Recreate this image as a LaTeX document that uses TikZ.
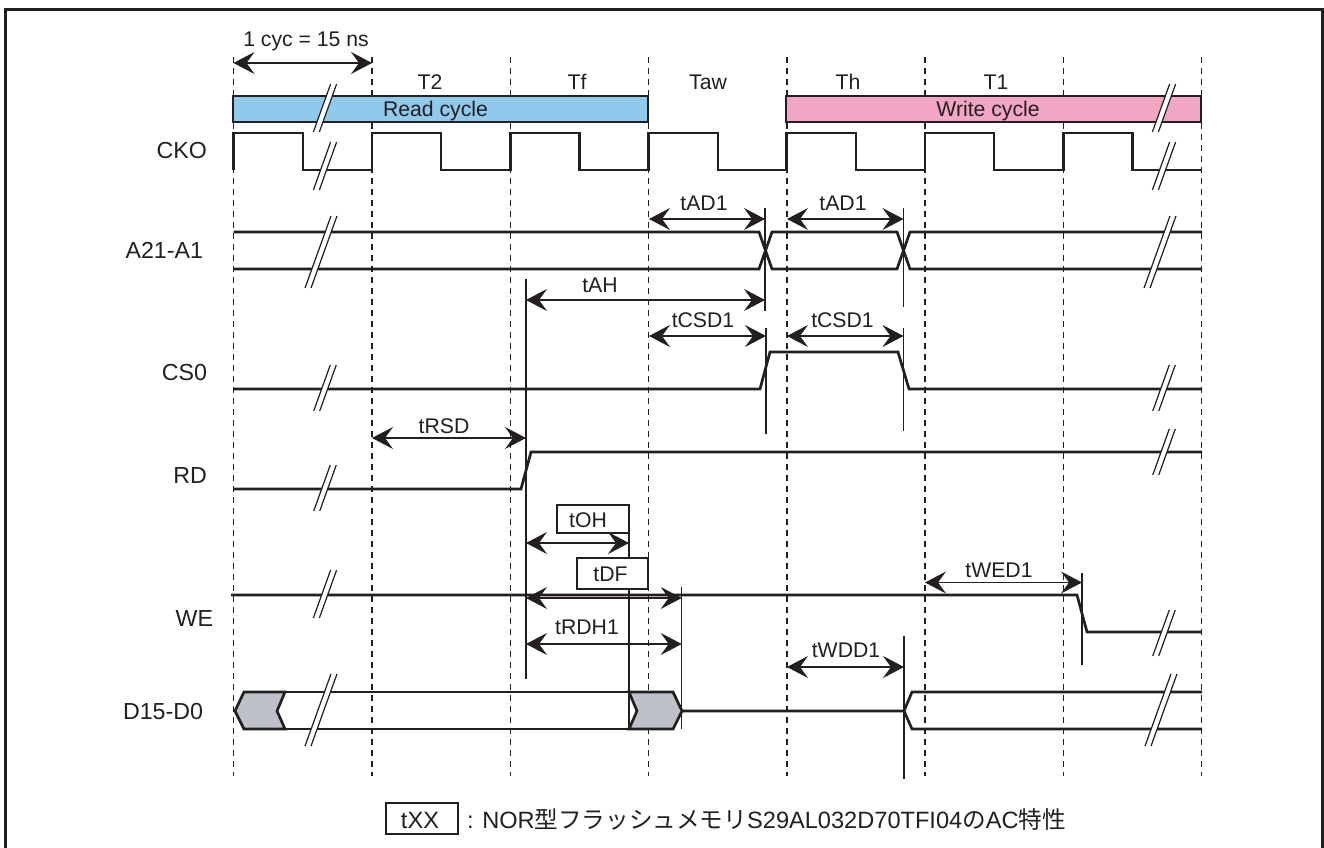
\documentclass[tikz,border=0pt]{standalone}
\usepackage{fontspec}
\setmainfont{Liberation Sans}
\newfontfamily\cjk{Noto Sans CJK JP}
\usetikzlibrary{arrows.meta}
\definecolor{ink}{HTML}{231F20}
\definecolor{readblue}{HTML}{8FC9EC}
\definecolor{writepink}{HTML}{F2A6C3}
\definecolor{busgray}{HTML}{BEC1C8}
\tikzset{
 x=0.75pt,y=-0.75pt,
 every node/.style={text=ink,font=\fontsize{15.9}{18}\selectfont,inner sep=0pt,outer sep=0pt},
 grid/.style={draw=ink,line width=1.6*0.75pt,dash pattern=on 6*0.75pt off 5*0.75pt},
 sig/.style={draw=ink,line width=2.7*0.75pt,line join=miter},
 thin line/.style={draw=ink,line width=1.5*0.75pt},
 dim/.style={draw=ink,line width=1.2*0.75pt,{Stealth[length=21*0.75pt,width=22*0.75pt,inset=8*0.75pt]}-{Stealth[length=21*0.75pt,width=22*0.75pt,inset=8*0.75pt]}},
 label/.style={anchor=base},
 siglabel/.style={anchor=base east,font=\fontsize{17.4}{20}\selectfont},
 boxed/.style={draw=ink,line width=1.5*0.75pt,fill=white},
 bar/.style={draw=ink,line width=2*0.75pt,minimum width=415.5*0.75pt,minimum height=26*0.75pt,anchor=north west},
}
% break mark: centre x, centre y, half height
\newcommand{\brk}[3]{%
 \fill[white] ({#1-#3*0.36-3},{#2+#3}) -- ({#1+#3*0.36-3},{#2-#3}) -- ({#1+#3*0.36+3},{#2-#3}) -- ({#1-#3*0.36+3},{#2+#3}) -- cycle;
 \draw[ink,line width=1.2*0.75pt] ({#1-#3*0.36-3},{#2+#3}) -- ({#1+#3*0.36-3},{#2-#3});
 \draw[ink,line width=1.2*0.75pt] ({#1-#3*0.36+3},{#2+#3}) -- ({#1+#3*0.36+3},{#2-#3});
}
\begin{document}
\begin{tikzpicture}
\useasboundingbox (0,0) rectangle (1324,848);
\fill[white] (0,0) rectangle (1324,848);
\draw[ink,line width=2.5*0.75pt] (5.3,848) -- (5.3,9.5) -- (1322.5,9.5) -- (1322.5,848);
% grid
\foreach \x in {233.5,372,510.3,648.5,786.8,925,1063.3,1201.5}
  \draw[grid] (\x,57) -- (\x,776);
% bars
\node[bar,fill=readblue] (readbar) at (232.5,96.5) {};
\node[bar,fill=writepink] (writebar) at (785.5,96.5) {};
\node[label] (readtxt) at (435.5,117) {Read cycle};
\node[label] (writetxt) at (988,117) {Write cycle};
% period labels
\node[label] (t2) at (430,90) {T2};
\node[label] (tf) at (577,90) {Tf};
\node[label] (taw) at (708,90) {Taw};
\node[label] (th) at (848,90) {Th};
\node[label] (t1) at (996,90) {T1};
\node[label] (cyc) at (306,47) {1 cyc = 15 ns};
% signal labels
\node[siglabel] (lcko) at (207,159) {CKO};
\node[siglabel] (la) at (203,259) {A21-A1};
\node[siglabel] (lcs) at (207,381) {CS0};
\node[siglabel] (lrd) at (207,483) {RD};
\node[siglabel] (lwe) at (213,626) {WE};
\node[siglabel] (ld) at (203,719) {D15-D0};
% CKO
\draw[sig] (233.5,170) -- (233.5,133) -- (303,133) -- (303,170) -- (372,170) -- (372,133) -- (441,133) -- (441,170) -- (510.3,170) -- (510.3,133) -- (579.5,133) -- (579.5,170) -- (648.5,170) -- (648.5,133) -- (718,133) -- (718,170) -- (786.8,170) -- (786.8,133) -- (856,133) -- (856,170) -- (925,170) -- (925,133) -- (994,133) -- (994,170) -- (1063.3,170) -- (1063.3,133) -- (1132.5,133) -- (1132.5,170) -- (1201.5,170);
% A21-A1
\draw[sig] (233.5,232) -- (759,232) -- (772,269) -- (897,269) -- (910,232) -- (1202,232);
\draw[sig] (233.5,269) -- (759,269) -- (772,232) -- (897,232) -- (910,269) -- (1202,269);
% CS0
\draw[sig] (233.5,389) -- (760,389) -- (770,352) -- (898,352) -- (909,389) -- (1202,389);
% RD
\draw[sig] (233.5,489) -- (521,489) -- (531,452) -- (1202,452);
% WE
\draw[sig] (231,595) -- (1077,595) -- (1087,632) -- (1202,632);
% D15-D0
\draw[sig,fill=busgray] (235,711) -- (244,692) -- (285,692) -- (277,711) -- (285,729) -- (244,729) -- cycle;
\draw[sig] (285,692) -- (629,692);
\draw[sig] (285,729) -- (629,729);
\draw[sig,fill=busgray] (629,692) -- (673,692) -- (682,711) -- (673,729) -- (629,729) -- (637,711) -- cycle;
\draw[sig] (682,711) -- (904,711) -- (912,692) -- (1202,692);
\draw[sig] (904,711) -- (912,729) -- (1202,729);
% breaks
\brk{325}{108}{24}
\brk{325}{166}{24}
\brk{321}{252}{36}
\brk{325}{388}{23}
\brk{325}{488}{23}
\brk{325}{594}{24}
\brk{321}{710}{36}
\brk{1164}{108}{24}
\brk{1164}{166}{24}
\brk{1160}{252}{36}
\brk{1164}{388}{23}
\brk{1164}{452}{23}
\brk{1164}{633}{23}
\brk{1161}{710}{36}
% timing reference lines
\coordinate (c1) at (233.5,63);\coordinate (c2) at (372,63);
\coordinate (ahTop) at (526,279);\coordinate (ahBot) at (526,679);
\coordinate (a1Top) at (765,208);\coordinate (a1Bot) at (765,311);
\coordinate (a2Top) at (903.5,208);\coordinate (a2Bot) at (903.5,307);
\coordinate (cs1Top) at (766,328);\coordinate (cs1Bot) at (766,434);
\coordinate (cs2Top) at (903.5,328);\coordinate (cs2Bot) at (903.5,431);
\coordinate (ohTop) at (629,533);\coordinate (ohBot) at (629,729);
\coordinate (dfTop) at (681.7,587);\coordinate (dfBot) at (681.7,729);
\coordinate (wedTop) at (1082,573);\coordinate (wedBot) at (1082,665);
\coordinate (wddTop) at (904,636);\coordinate (wddBot) at (904,779);
\foreach \p/\q in {ahTop/ahBot,a1Top/a1Bot,a2Top/a2Bot,cs1Top/cs1Bot,cs2Top/cs2Bot,ohTop/ohBot,dfTop/dfBot,wedTop/wedBot,wddTop/wddBot}
  \draw[thin line] (\p) -- (\q);
% dimension arrows
\draw[dim] (c1) -- (c2);
\coordinate (g4) at (649,219);\coordinate (g5) at (787,219);
\draw[dim] (g4) -- (a1Top |- g4);
\draw[dim] (g5) -- (a2Top |- g5);
\node[label] (ltad1a) at (704,211) {tAD1};
\node[label] (ltad1b) at (843,211) {tAD1};
\coordinate (gah) at (526,300);
\draw[dim] (gah) -- (a1Top |- gah);
\node[label] (ltah) at (600,293) {tAH};
\coordinate (g6) at (649,336);\coordinate (g7) at (787,336);
\draw[dim] (g6) -- (cs1Top |- g6);
\draw[dim] (g7) -- (cs2Top |- g7);
\node[label] (ltcsd1a) at (703,328) {tCSD1};
\node[label] (ltcsd1b) at (842.5,328) {tCSD1};
\coordinate (grsd) at (372,438);
\draw[dim] (grsd) -- (ahTop |- grsd);
\node[label] (ltrsd) at (444,433) {tRSD};
\path[boxed] (557,505) rectangle (629,533);
\node[label] (boh) at (588,527) {tOH};
\coordinate (goh) at (526,543);
\draw[dim] (goh) -- (ohTop |- goh);
\path[boxed] (577,558) rectangle (648,589);
\node[label] (bdf) at (610.5,581) {tDF};
\coordinate (gdf) at (526,598);
\draw[dim] (gdf) -- (dfTop |- gdf);
\coordinate (grdh) at (526,644);
\draw[dim] (grdh) -- (dfTop |- grdh);
\node[label] (ltrdh) at (587,634) {tRDH1};
\coordinate (g8) at (925,582.5);
\draw[dim] (g8) -- (wedTop |- g8);
\node[label] (ltwed) at (999,577) {tWED1};
\coordinate (g9) at (787,667);
\draw[dim] (g9) -- (wddTop |- g9);
\node[label] (ltwdd) at (846,657) {tWDD1};
% legend
\node[draw=ink,line width=1.5*0.75pt,minimum width=72*0.75pt,minimum height=31*0.75pt,anchor=north west] (leg) at (386,803) {};
\node[label,font=\fontsize{17.7}{20}\selectfont] (legtx) at (420,828) {tXX};
\node[anchor=base west,font=\fontsize{17.7}{20}\selectfont] (legtxt) at (467,828) {: NOR{\cjk 型フラッシュメモリ}S29AL032D70TFI04{\cjk の}AC{\cjk 特性}};
\end{tikzpicture}
\end{document}
